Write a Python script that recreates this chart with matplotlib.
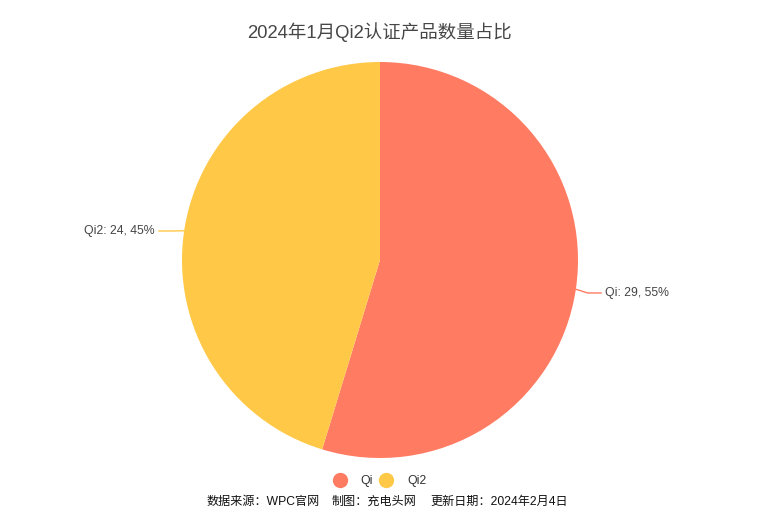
import numpy as np
import matplotlib
matplotlib.use("Agg")
import matplotlib.pyplot as plt
from matplotlib.lines import Line2D

categories = ["Qi", "Qi2"]
values = [29, 24]
colors = ["#FF7B62", "#FFC947"]
title = "2024年1月Qi2认证产品数量占比"
footer_parts = ["数据来源：WPC官网", "制图：充电头网", "更新日期：2024年2月4日"]

FAM = ["Liberation Sans", "Noto Sans CJK SC", "DejaVu Sans"]
plt.rcParams["font.family"] = FAM

W, H = 759, 523
fig = plt.figure(figsize=(W / 100, H / 100), dpi=100)
cx, cy, R = 380, 260, 198
ax = fig.add_axes([(cx - R) / W, (H - cy - R) / H, 2 * R / W, 2 * R / H])
wedges, _ = ax.pie(values, colors=colors, startangle=90, counterclock=False,
                   radius=1.0, wedgeprops=dict(linewidth=0))
ax.set_xlim(-1, 1)
ax.set_ylim(-1, 1)
ax.set_aspect("equal")
ax.axis("off")

total = sum(values)
for w, cat, v, c in zip(wedges, categories, values, colors):
    ang = np.deg2rad((w.theta1 + w.theta2) / 2)
    x0, y0 = np.cos(ang), np.sin(ang)
    x1, y1 = 1.06 * x0, 1.06 * y0 - 0.01
    side = 1 if x0 >= 0 else -1
    x2 = x1 + side * 0.068
    ax.plot([x0, x1, x2], [y0, y1, y1], color=c, lw=1, clip_on=False)
    pct = round(v / total * 100)
    ax.text(x2 + side * 0.022, y1, f"{cat}: {v}, {pct}%", fontsize=8.8,
            color="#444444", ha="left" if side > 0 else "right", va="center",
            family=FAM)

fig.text(cx / W, 1 - 32 / H, title, ha="center", va="center",
         fontsize=13.3, color="#464646", family=FAM)

# legend
handles = [Line2D([0], [0], marker="o", linestyle="none", markersize=10,
                  markerfacecolor=c, markeredgecolor=c) for c in colors]
fig.legend(handles, categories, loc="center", bbox_to_anchor=(cx / W, 1 - 481 / H),
           ncol=2, frameon=False, fontsize=8.8, handletextpad=1.2,
           columnspacing=0.6, labelcolor="#333333", handlelength=1.0)

for xs, t in zip([207, 332, 430], footer_parts):
    fig.text(xs / W, 1 - 502 / H, t, ha="left", va="center",
             fontsize=8.7, color="#111111", family=FAM)

fig.savefig("out.png", dpi=100)
